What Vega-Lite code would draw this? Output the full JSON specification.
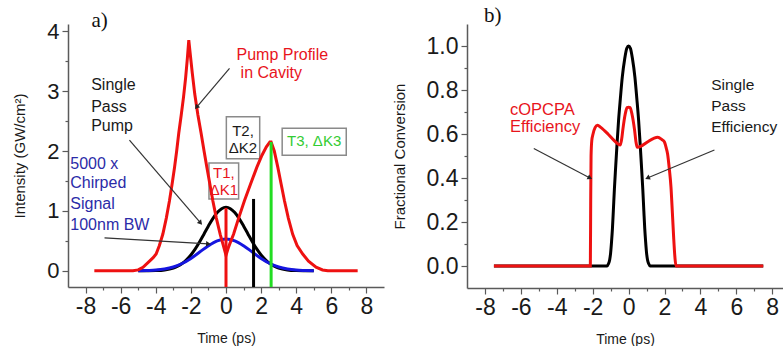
{
  "$schema": "https://vega.github.io/schema/vega-lite/v6.json",
  "background": "white",
  "padding": {"left": 12, "top": 4, "right": 0, "bottom": 0},
  "config": {
    "view": {"stroke": null},
    "font": "Liberation Sans",
    "axis": {"grid": false, "domainColor": "#5a5a5a", "tickColor": "#5a5a5a", "domainWidth": 1.5, "tickWidth": 1.2, "labelColor": "#1a1a1a", "titleColor": "#1a1a1a", "labelFont": "Liberation Sans", "titleFont": "Liberation Sans", "titleFontWeight": "normal", "labelOverlap": false, "labelFlush": false}
  },
  "datasets": {
    "redA": [
      {"t": -7.5, "v": 0}, {"t": -5.3, "v": 0}, {"t": -5.0, "v": 0.015}, {"t": -4.73, "v": 0.06}, {"t": -4.4, "v": 0.15}, {"t": -4.15, "v": 0.22}, {"t": -3.98, "v": 0.28}, {"t": -3.8, "v": 0.42}, {"t": -3.6, "v": 0.61}, {"t": -3.4, "v": 0.88}, {"t": -3.22, "v": 1.17}, {"t": -3.07, "v": 1.45}, {"t": -2.93, "v": 1.73}, {"t": -2.81, "v": 2.0}, {"t": -2.69, "v": 2.3}, {"t": -2.55, "v": 2.6}, {"t": -2.42, "v": 2.9}, {"t": -2.3, "v": 3.22}, {"t": -2.2, "v": 3.55}, {"t": -2.12, "v": 3.85}, {"t": -2.03, "v": 3.6}, {"t": -1.92, "v": 3.3}, {"t": -1.78, "v": 2.95}, {"t": -1.6, "v": 2.6}, {"t": -1.42, "v": 2.3}, {"t": -1.25, "v": 2.0}, {"t": -1.09, "v": 1.73}, {"t": -0.92, "v": 1.45}, {"t": -0.75, "v": 1.17}, {"t": -0.55, "v": 0.88}, {"t": -0.33, "v": 0.61}, {"t": -0.15, "v": 0.42}, {"t": 0, "v": 0.26}, {"t": 0.15, "v": 0.4}, {"t": 0.28, "v": 0.5}, {"t": 0.43, "v": 0.61}, {"t": 0.72, "v": 0.88}, {"t": 1.05, "v": 1.17}, {"t": 1.4, "v": 1.45}, {"t": 1.76, "v": 1.73}, {"t": 2.05, "v": 1.93}, {"t": 2.3, "v": 2.07}, {"t": 2.5, "v": 2.15}, {"t": 2.57, "v": 2.15}, {"t": 2.75, "v": 2.0}, {"t": 2.95, "v": 1.73}, {"t": 3.14, "v": 1.45}, {"t": 3.33, "v": 1.17}, {"t": 3.55, "v": 0.88}, {"t": 3.8, "v": 0.61}, {"t": 4.05, "v": 0.42}, {"t": 4.37, "v": 0.28}, {"t": 4.7, "v": 0.16}, {"t": 5.13, "v": 0.06}, {"t": 5.5, "v": 0.015}, {"t": 5.8, "v": 0}, {"t": 7.5, "v": 0}
    ],
    "blackA": [
      {"t": -5, "v": 0}, {"t": -4.5, "v": 0.001}, {"t": -4, "v": 0.004}, {"t": -3.5, "v": 0.015}, {"t": -3, "v": 0.047}, {"t": -2.75, "v": 0.077}, {"t": -2.5, "v": 0.121}, {"t": -2.25, "v": 0.183}, {"t": -2, "v": 0.264}, {"t": -1.75, "v": 0.366}, {"t": -1.5, "v": 0.485}, {"t": -1.25, "v": 0.616}, {"t": -1, "v": 0.749}, {"t": -0.75, "v": 0.872}, {"t": -0.5, "v": 0.972}, {"t": -0.25, "v": 1.037}, {"t": 0, "v": 1.06}, {"t": 0.25, "v": 1.037}, {"t": 0.5, "v": 0.972}, {"t": 0.75, "v": 0.872}, {"t": 1, "v": 0.749}, {"t": 1.25, "v": 0.616}, {"t": 1.5, "v": 0.485}, {"t": 1.75, "v": 0.366}, {"t": 2, "v": 0.264}, {"t": 2.25, "v": 0.183}, {"t": 2.5, "v": 0.121}, {"t": 2.75, "v": 0.077}, {"t": 3, "v": 0.047}, {"t": 3.5, "v": 0.015}, {"t": 4, "v": 0.004}, {"t": 4.5, "v": 0.001}, {"t": 5, "v": 0}
    ],
    "blueA": [
      {"t": -5, "v": 0}, {"t": -4.5, "v": 0.005}, {"t": -4, "v": 0.012}, {"t": -3.5, "v": 0.03}, {"t": -3, "v": 0.064}, {"t": -2.5, "v": 0.122}, {"t": -2, "v": 0.207}, {"t": -1.5, "v": 0.313}, {"t": -1, "v": 0.419}, {"t": -0.5, "v": 0.5}, {"t": 0, "v": 0.53}, {"t": 0.5, "v": 0.5}, {"t": 1, "v": 0.419}, {"t": 1.5, "v": 0.313}, {"t": 2, "v": 0.207}, {"t": 2.5, "v": 0.122}, {"t": 3, "v": 0.064}, {"t": 3.5, "v": 0.03}, {"t": 4, "v": 0.012}, {"t": 4.5, "v": 0.005}, {"t": 5, "v": 0}
    ],
    "rulesA": [
      {"k": "T1", "t": 0, "v": -0.27, "v2": 1.05},
      {"k": "T2", "t": 1.57, "v": -0.27, "v2": 1.2},
      {"k": "T3", "t": 2.57, "v": -0.27, "v2": 2.15}
    ],
    "boxesA": [
      {"k": "T1", "t": -0.97, "t2": 0.72, "v": 1.8, "v2": 1.2},
      {"k": "T2", "t": 0.02, "t2": 1.92, "v": 2.57, "v2": 1.87},
      {"k": "T3", "t": 3.2, "t2": 6.85, "v": 2.38, "v2": 1.93}
    ],
    "arrowsA": [
      {"k": "P", "t": -1.68, "v": 2.73, "t2": 0.2, "v2": 3.38},
      {"k": "S", "t": -1.45, "v": 0.8, "t2": -5.5, "v2": 2.18},
      {"k": "B", "t": -1.0, "v": 0.45, "t2": -6.92, "v2": 0.55}
    ],
    "textA": [
      {"g": "title", "t": -7.2, "v": 4.17, "text": "a)"},
      {"g": "blackL", "t": -7.68, "v": 3.1, "text": "Single"},
      {"g": "blackL", "t": -7.68, "v": 2.74, "text": "Pass"},
      {"g": "blackL", "t": -7.68, "v": 2.41, "text": "Pump"},
      {"g": "redL", "t": 0.6, "v": 3.61, "text": "Pump Profile"},
      {"g": "redL", "t": 0.83, "v": 3.31, "text": "in Cavity"},
      {"g": "blueL", "t": -8.87, "v": 1.79, "text": "5000 x"},
      {"g": "blueL", "t": -8.87, "v": 1.46, "text": "Chirped"},
      {"g": "blueL", "t": -8.87, "v": 1.12, "text": "Signal"},
      {"g": "blueL", "t": -8.87, "v": 0.77, "text": "100nm BW"},
      {"g": "redC", "t": -0.12, "v": 1.64, "text": "T1,"},
      {"g": "redC", "t": -0.12, "v": 1.35, "text": "ΔK1"},
      {"g": "blackC", "t": 0.97, "v": 2.34, "text": "T2,"},
      {"g": "blackC", "t": 0.97, "v": 2.05, "text": "ΔK2"},
      {"g": "greenC", "t": 5.02, "v": 2.16, "text": "T3, ΔK3"}
    ],
    "redB": [
      {"t": -7.5, "v": 0}, {"t": -2.13, "v": 0}, {"t": -2.11, "v": 0.3}, {"t": -2.09, "v": 0.5}, {"t": -2.05, "v": 0.57}, {"t": -1.98, "v": 0.6}, {"t": -1.86, "v": 0.63}, {"t": -1.73, "v": 0.64}, {"t": -1.55, "v": 0.63}, {"t": -1.15, "v": 0.6}, {"t": -0.8, "v": 0.57}, {"t": -0.59, "v": 0.555}, {"t": -0.46, "v": 0.55}, {"t": -0.38, "v": 0.58}, {"t": -0.32, "v": 0.62}, {"t": -0.19, "v": 0.69}, {"t": -0.08, "v": 0.72}, {"t": 0, "v": 0.722}, {"t": 0.08, "v": 0.72}, {"t": 0.19, "v": 0.69}, {"t": 0.33, "v": 0.62}, {"t": 0.42, "v": 0.56}, {"t": 0.48, "v": 0.54}, {"t": 0.7, "v": 0.545}, {"t": 1.07, "v": 0.565}, {"t": 1.4, "v": 0.58}, {"t": 1.62, "v": 0.585}, {"t": 1.85, "v": 0.575}, {"t": 1.99, "v": 0.565}, {"t": 2.1, "v": 0.535}, {"t": 2.17, "v": 0.51}, {"t": 2.27, "v": 0.44}, {"t": 2.36, "v": 0.36}, {"t": 2.44, "v": 0.24}, {"t": 2.51, "v": 0.13}, {"t": 2.58, "v": 0.04}, {"t": 2.64, "v": 0}, {"t": 7.5, "v": 0}
    ],
    "blackB": [
      {"t": -7.5, "v": 0}, {"t": -1.2, "v": 0}, {"t": -1.12, "v": 0.01}, {"t": -1.05, "v": 0.03}, {"t": -1.0, "v": 0.06}, {"t": -0.95, "v": 0.11}, {"t": -0.9, "v": 0.17}, {"t": -0.85, "v": 0.25}, {"t": -0.79, "v": 0.35}, {"t": -0.72, "v": 0.45}, {"t": -0.64, "v": 0.56}, {"t": -0.56, "v": 0.66}, {"t": -0.46, "v": 0.76}, {"t": -0.35, "v": 0.86}, {"t": -0.22, "v": 0.94}, {"t": -0.1, "v": 0.99}, {"t": 0, "v": 1.0}, {"t": 0.1, "v": 0.99}, {"t": 0.22, "v": 0.94}, {"t": 0.35, "v": 0.86}, {"t": 0.46, "v": 0.76}, {"t": 0.56, "v": 0.66}, {"t": 0.64, "v": 0.56}, {"t": 0.72, "v": 0.45}, {"t": 0.79, "v": 0.35}, {"t": 0.85, "v": 0.25}, {"t": 0.9, "v": 0.17}, {"t": 0.95, "v": 0.11}, {"t": 1.0, "v": 0.06}, {"t": 1.05, "v": 0.03}, {"t": 1.12, "v": 0.01}, {"t": 1.2, "v": 0}, {"t": 7.5, "v": 0}
    ],
    "arrowsB": [
      {"k": "C", "t": -2.15, "v": 0.4, "t2": -5.28, "v2": 0.534},
      {"k": "E", "t": 1.05, "v": 0.4, "t2": 4.78, "v2": 0.527}
    ],
    "textB": [
      {"g": "title", "t": -7.57, "v": 1.137, "text": "b)"},
      {"g": "redL", "t": -6.61, "v": 0.709, "text": "cOPCPA"},
      {"g": "redL", "t": -6.61, "v": 0.633, "text": "Efficiency"},
      {"g": "blackL", "t": 4.6, "v": 0.822, "text": "Single"},
      {"g": "blackL", "t": 4.6, "v": 0.728, "text": "Pass"},
      {"g": "blackL", "t": 4.6, "v": 0.633, "text": "Efficiency"}
    ]
  },
  "spacing": 83,
  "bounds": "flush",
  "hconcat": [
    {
      "width": 316,
      "height": 263,
      "encoding": {
        "x": {"field": "t", "type": "quantitative", "title": "Time (ps)", "scale": {"domain": [-9, 9], "nice": false, "zero": false},
          "axis": {"values": [-8, -7, -6, -5, -4, -3, -2, -1, 0, 1, 2, 3, 4, 5, 6, 7, 8], "labelExpr": "datum.value % 2 === 0 ? '' + datum.value : ''", "labelFontSize": 23, "titleFontSize": 14, "labelPadding": 2, "titlePadding": 13, "tickSize": {"condition": {"test": "datum.value % 2 === 0", "value": 6}, "value": 3}}},
        "y": {"field": "v", "type": "quantitative", "title": "Intensity (GW/cm²)", "scale": {"domain": [-0.27, 4.12], "nice": false, "zero": false},
          "axis": {"values": [0, 0.5, 1, 1.5, 2, 2.5, 3, 3.5, 4], "labelExpr": "datum.value % 1 === 0 ? '' + datum.value : ''", "labelFontSize": 22, "titleFontSize": 15, "labelPadding": 3, "titlePadding": 19, "tickSize": {"condition": {"test": "datum.value % 1 === 0", "value": 6}, "value": 3}}}
      },
      "layer": [
        {"data": {"name": "boxesA"}, "mark": {"type": "rect", "fill": "white", "stroke": "#8a8a8a", "strokeWidth": 1.5}, "encoding": {"x2": {"field": "t2"}, "y2": {"field": "v2"}}},
        {"data": {"name": "blackA"}, "mark": {"type": "line", "color": "#000000", "strokeWidth": 3, "interpolate": "monotone"}},
        {"data": {"name": "blueA"}, "mark": {"type": "line", "color": "#1515e0", "strokeWidth": 3, "interpolate": "monotone"}},
        {"data": {"name": "redA"}, "mark": {"type": "line", "color": "#ee1111", "strokeWidth": 3}},
        {"data": {"name": "rulesA"}, "transform": [{"filter": "datum.k === 'T1'"}], "mark": {"type": "rule", "color": "#ee1111", "strokeWidth": 3}, "encoding": {"y2": {"field": "v2"}}},
        {"data": {"name": "rulesA"}, "transform": [{"filter": "datum.k === 'T2'"}], "mark": {"type": "rule", "color": "#000000", "strokeWidth": 3}, "encoding": {"y2": {"field": "v2"}}},
        {"data": {"name": "rulesA"}, "transform": [{"filter": "datum.k === 'T3'"}], "mark": {"type": "rule", "color": "#22dd22", "strokeWidth": 3}, "encoding": {"y2": {"field": "v2"}}},
        {"data": {"name": "arrowsA"}, "mark": {"type": "rule", "color": "#333333", "strokeWidth": 1.2}, "encoding": {"x2": {"field": "t2"}, "y2": {"field": "v2"}}},
        {"data": {"name": "arrowsA"}, "transform": [{"filter": "datum.k === 'P'"}], "mark": {"type": "point", "shape": "triangle-up", "filled": true, "size": 30, "color": "#222222", "opacity": 1, "angle": 220}},
        {"data": {"name": "arrowsA"}, "transform": [{"filter": "datum.k === 'S'"}], "mark": {"type": "point", "shape": "triangle-up", "filled": true, "size": 30, "color": "#222222", "opacity": 1, "angle": 139}},
        {"data": {"name": "arrowsA"}, "transform": [{"filter": "datum.k === 'B'"}], "mark": {"type": "point", "shape": "triangle-up", "filled": true, "size": 30, "color": "#222222", "opacity": 1, "angle": 93}},
        {"data": {"name": "textA"}, "transform": [{"filter": "datum.g === 'title'"}], "mark": {"type": "text", "font": "Liberation Serif", "fontSize": 21, "align": "center", "baseline": "middle", "color": "#111111"}, "encoding": {"text": {"field": "text"}}},
        {"data": {"name": "textA"}, "transform": [{"filter": "datum.g === 'blackL'"}], "mark": {"type": "text", "fontSize": 16, "align": "left", "baseline": "middle", "color": "#1a1a1a"}, "encoding": {"text": {"field": "text"}}},
        {"data": {"name": "textA"}, "transform": [{"filter": "datum.g === 'redL'"}], "mark": {"type": "text", "fontSize": 16, "align": "left", "baseline": "middle", "color": "#e8141c"}, "encoding": {"text": {"field": "text"}}},
        {"data": {"name": "textA"}, "transform": [{"filter": "datum.g === 'blueL'"}], "mark": {"type": "text", "fontSize": 16, "align": "left", "baseline": "middle", "color": "#2b2ba8"}, "encoding": {"text": {"field": "text"}}},
        {"data": {"name": "textA"}, "transform": [{"filter": "datum.g === 'redC'"}], "mark": {"type": "text", "fontSize": 15, "align": "center", "baseline": "middle", "color": "#e8141c"}, "encoding": {"text": {"field": "text"}}},
        {"data": {"name": "textA"}, "transform": [{"filter": "datum.g === 'blackC'"}], "mark": {"type": "text", "fontSize": 15, "align": "center", "baseline": "middle", "color": "#1a1a1a"}, "encoding": {"text": {"field": "text"}}},
        {"data": {"name": "textA"}, "transform": [{"filter": "datum.g === 'greenC'"}], "mark": {"type": "text", "fontSize": 15, "align": "center", "baseline": "middle", "color": "#33cc33"}, "encoding": {"text": {"field": "text"}}}
      ]
    },
    {
      "width": 316,
      "height": 264,
      "encoding": {
        "x": {"field": "t", "type": "quantitative", "title": "Time (ps)", "scale": {"domain": [-9, 8.6], "nice": false, "zero": false},
          "axis": {"values": [-8, -7, -6, -5, -4, -3, -2, -1, 0, 1, 2, 3, 4, 5, 6, 7, 8], "labelExpr": "datum.value % 2 === 0 ? '' + datum.value : ''", "labelFontSize": 23, "titleFontSize": 14, "labelPadding": 2, "titlePadding": 13, "tickSize": {"condition": {"test": "datum.value % 2 === 0", "value": 6}, "value": 3}}},
        "y": {"field": "v", "type": "quantitative", "title": "Fractional Conversion", "scale": {"domain": [-0.1, 1.1], "nice": false, "zero": false},
          "axis": {"values": [0, 0.1, 0.2, 0.3, 0.4, 0.5, 0.6, 0.7, 0.8, 0.9, 1], "labelExpr": "round(datum.value * 10) % 2 === 0 ? format(datum.value, '.1f') : ''", "labelFontSize": 23, "titleFontSize": 15, "labelPadding": 3, "titlePadding": 19, "tickSize": {"condition": {"test": "round(datum.value * 10) % 2 === 0", "value": 6}, "value": 3}}}
      },
      "layer": [
        {"data": {"name": "blackB"}, "mark": {"type": "line", "color": "#000000", "strokeWidth": 3, "interpolate": "monotone"}},
        {"data": {"name": "redB"}, "mark": {"type": "line", "color": "#ee1111", "strokeWidth": 3, "interpolate": "monotone"}},
        {"data": {"name": "arrowsB"}, "mark": {"type": "rule", "color": "#333333", "strokeWidth": 1.2}, "encoding": {"x2": {"field": "t2"}, "y2": {"field": "v2"}}},
        {"data": {"name": "arrowsB"}, "transform": [{"filter": "datum.k === 'C'"}], "mark": {"type": "point", "shape": "triangle-up", "filled": true, "size": 30, "color": "#222222", "opacity": 1, "angle": 117}},
        {"data": {"name": "arrowsB"}, "transform": [{"filter": "datum.k === 'E'"}], "mark": {"type": "point", "shape": "triangle-up", "filled": true, "size": 30, "color": "#222222", "opacity": 1, "angle": 247}},
        {"data": {"name": "textB"}, "transform": [{"filter": "datum.g === 'title'"}], "mark": {"type": "text", "font": "Liberation Serif", "fontSize": 21, "align": "center", "baseline": "middle", "color": "#111111"}, "encoding": {"text": {"field": "text"}}},
        {"data": {"name": "textB"}, "transform": [{"filter": "datum.g === 'blackL'"}], "mark": {"type": "text", "fontSize": 15.5, "align": "left", "baseline": "middle", "color": "#1a1a1a"}, "encoding": {"text": {"field": "text"}}},
        {"data": {"name": "textB"}, "transform": [{"filter": "datum.g === 'redL'"}], "mark": {"type": "text", "fontSize": 16.5, "align": "left", "baseline": "middle", "color": "#e8141c"}, "encoding": {"text": {"field": "text"}}}
      ]
    }
  ]
}
